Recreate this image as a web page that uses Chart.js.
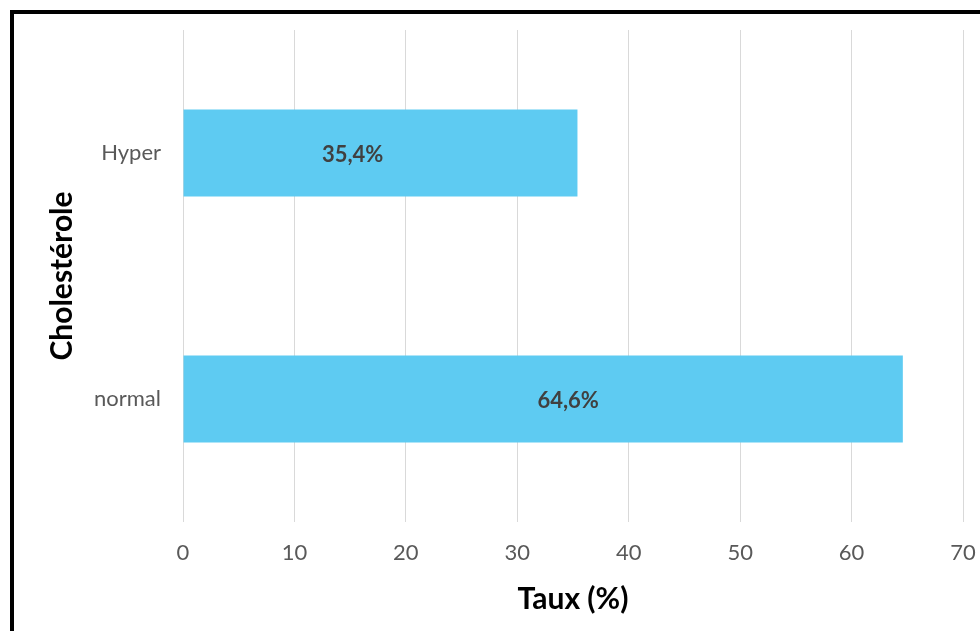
<!DOCTYPE html>
<html>
<head>
<meta charset="utf-8">
<script src="https://cdn.jsdelivr.net/npm/chart.js@4/dist/chart.umd.min.js"></script>
<style>
  html, body { margin: 0; padding: 0; background: #fff; overflow: hidden; }
  #wrap { position: relative; width: 980px; height: 631px; }
  #graf { position: absolute; left: 0; top: 0; }
  #cadre {
    position: absolute; left: 10px; top: 10px; width: 990px; height: 640px;
    border-left: 4px solid #000; border-top: 4px solid #000; pointer-events: none;
  }
</style>
</head>
<body>
<div id="wrap">
  <canvas id="graf" width="980" height="631"></canvas>
  <div id="cadre"></div>
</div>
<script>
// données
const categories = ["Hyper", "normal"];
const taux = [35.4, 64.6];
const etiquettes = ["35,4%", "64,6%"];
const graduations = [0, 10, 20, 30, 40, 50, 60, 70];

const police = "Lato, 'Open Sans', sans-serif";

// étiquettes de valeur dans les barres (position relative à la longueur de la barre)
const placeEtiquette = [0.43, 0.535];
const etiquettesBarres = {
  id: "etiquettesBarres",
  afterDatasetsDraw(chart) {
    const ctx = chart.ctx;
    const meta = chart.getDatasetMeta(0);
    const x = chart.scales.x;
    ctx.save();
    ctx.font = "bold 22px " + police;
    ctx.fillStyle = "#404040";
    ctx.textAlign = "center";
    ctx.textBaseline = "middle";
    meta.data.forEach((bar, i) => {
      const px = x.getPixelForValue(taux[i] * placeEtiquette[i]);
      ctx.fillText(etiquettes[i], px, bar.y + 2);
    });
    ctx.restore();
  }
};

new Chart(document.getElementById("graf"), {
  type: "bar",
  data: {
    labels: categories,
    datasets: [{
      data: taux,
      backgroundColor: "#5ecbf2",
      borderWidth: 0,
      categoryPercentage: 1,
      barPercentage: 0.354
    }]
  },
  options: {
    indexAxis: "y",
    responsive: false,
    animation: false,
    layout: { padding: { top: 30, right: 17, left: 0, bottom: 0 } },
    plugins: { legend: { display: false }, tooltip: { enabled: false } },
    scales: {
      x: {
        min: 0,
        max: 70,
        afterBuildTicks: s => { s.ticks = graduations.map(v => ({ value: v })); },
        afterFit: s => {
          s.height = 631 - 522;
          // le « 70 » peut déborder du bord droit
          s.paddingLeft = 0;
          s.paddingRight = 0;
        },
        grid: { color: "#d9d9d9", lineWidth: 1, drawTicks: false },
        border: { display: false },
        ticks: { color: "#595959", font: { family: police, size: 22 }, padding: 18 },
        title: {
          display: true, text: "Taux (%)", color: "#000",
          font: { family: police, size: 30, weight: "bold" },
          padding: { top: 0, bottom: 14 }
        }
      },
      y: {
        afterFit: s => {
          s.width = 183;
          s.paddingTop = 0;
          s.paddingBottom = 0;
        },
        grid: { display: false, drawTicks: false },
        border: { display: false },
        ticks: { color: "#595959", font: { family: police, size: 22 }, padding: 22 },
        title: {
          display: true, text: "Cholestérole", color: "#000",
          font: { family: police, size: 30, weight: "bold" },
          padding: { top: 44, bottom: 0 }
        }
      }
    }
  },
  plugins: [etiquettesBarres]
});
</script>
</body>
</html>
